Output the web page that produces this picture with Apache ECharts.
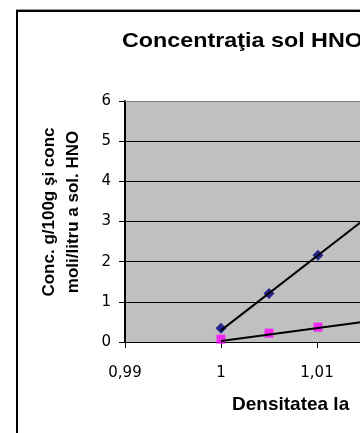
<!DOCTYPE html>
<html>
<head>
<meta charset="utf-8">
<script src="https://cdn.jsdelivr.net/npm/echarts@6/dist/echarts.min.js"></script>
<style>
html,body{margin:0;padding:0;overflow:hidden;background:#fff;width:360px;height:433px;}
#chart{width:700px;height:433px;}
</style>
</head>
<body>
<div id="chart"></div>
<script>
// Data
var titleText = 'Concentraţia sol HNO3';
var xAxisTitle = 'Densitatea la';
var yAxisTitleLines = ['Conc. g/100g şi conc', 'moli/litru a sol. HNO'];

var density = [1.0, 1.005, 1.0101];
var concGram = [0.34, 1.21, 2.16];      // navy diamonds
var concMolar = [0.07, 0.22, 0.37];     // magenta squares

// Linear trendlines (endpoints)
var trendGramX = [1.0, 1.02];
var trendGramY = [0.29, 3.99];
var trendMolarX = [1.0, 1.02];
var trendMolarY = [0.025, 0.665];

var xMin = 0.99, xMax = 1.04, xStep = 0.01;
var yMin = 0, yMax = 6, yStep = 1;

function pairs(xs, ys){ return xs.map(function(x,i){ return [x, ys[i]]; }); }
function fmtX(v){
  var s = (Math.round(v*100)/100).toString();
  return s.replace('.', ',');
}

var chart = echarts.init(document.getElementById('chart'), null, {renderer:'canvas'});
var gridLeft = 125, gridTop = 101, gridHeight = 241, gridWidth = 480;
var tickFont = 'DejaVu Sans';

chart.setOption({
  animation: false,
  backgroundColor: '#ffffff',
  grid: {left: gridLeft, top: gridTop, width: gridWidth, height: gridHeight,
         show: true, backgroundColor: '#c0c0c0', borderWidth: 0},
  xAxis: {
    type: 'value', min: xMin, max: xMax, interval: xStep,
    axisLine: {show: true, onZero: false, lineStyle: {color: '#000', width: 1}},
    axisTick: {show: true, length: 6, lineStyle: {color: '#000'}},
    splitLine: {show: false},
    axisLabel: {formatter: fmtX, color: '#000', fontFamily: tickFont, fontSize: 15, margin: 24}
  },
  yAxis: {
    type: 'value', min: yMin, max: yMax, interval: yStep,
    axisLine: {show: true, lineStyle: {color: '#000', width: 2}},
    axisTick: {show: true, length: 6, lineStyle: {color: '#000'}},
    splitLine: {show: true, lineStyle: {color: '#000', width: 1}},
    axisLabel: {color: '#000', fontFamily: tickFont, fontSize: 15, margin: 14}
  },
  graphic: [
    {type: 'rect', shape: {x: 17, y: 11, width: 900, height: 600},
     style: {fill: null, stroke: '#000', lineWidth: 2}, z: 100, silent: true},
    {type: 'line', shape: {x1: 16, y1: 9.5, x2: 900, y2: 9.5},
     style: {stroke: '#999', lineWidth: 1}, z: 100, silent: true},
    {type: 'line', shape: {x1: gridLeft, y1: gridTop + 0.5, x2: gridLeft + gridWidth, y2: gridTop + 0.5},
     style: {stroke: '#808080', lineWidth: 1}, z: 50, silent: true},
    {type: 'text', x: 122, y: 31, scaleX: 1.11,
     style: {text: titleText, fill: '#000', font: 'bold 21px "Liberation Sans"', textAlign: 'left', textVerticalAlign: 'top'}},
    {type: 'text', x: 232, y: 395,
     style: {text: xAxisTitle, fill: '#000', font: 'bold 19px "Liberation Sans"', textAlign: 'left', textVerticalAlign: 'top'}},
    {type: 'text', x: 61, y: 212, rotation: Math.PI/2,
     style: {text: yAxisTitleLines.join('\n'), fill: '#000', font: 'bold 17px "Liberation Sans"',
             lineHeight: 24, textAlign: 'center', textVerticalAlign: 'middle'}}
  ],
  series: [
    {type: 'scatter', data: pairs(density, concGram), symbol: 'diamond', symbolSize: 11,
     itemStyle: {color: '#000080'}, z: 3},
    {type: 'scatter', data: pairs(density, concMolar), symbol: 'rect', symbolSize: 9,
     itemStyle: {color: '#ff00ff'}, z: 3},
    {type: 'line', data: pairs(trendGramX, trendGramY), symbol: 'none', clip: true,
     lineStyle: {color: '#000', width: 2}, z: 4},
    {type: 'line', data: pairs(trendMolarX, trendMolarY), symbol: 'none', clip: true,
     lineStyle: {color: '#000', width: 2}, z: 4}
  ]
});
</script>
</body>
</html>
